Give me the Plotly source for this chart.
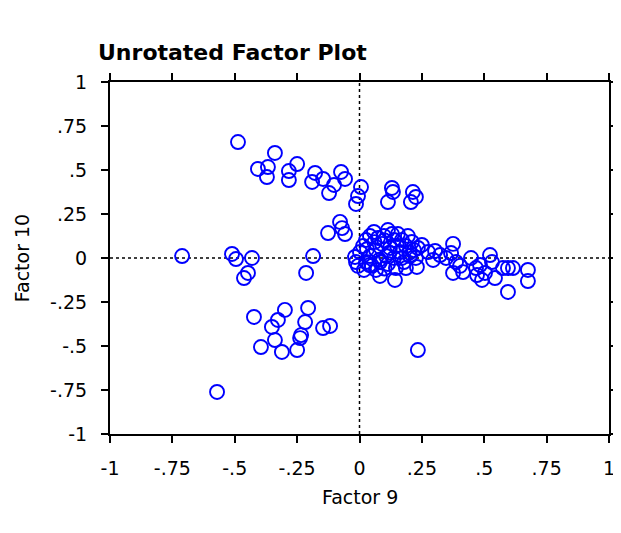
import plotly.graph_objects as go

# Factor 9 (x) and Factor 10 (y) loadings
factor9 = [
    -0.487, -0.339, -0.407, -0.367, -0.371, -0.283, -0.250, -0.283, -0.178, -0.190,
    -0.146, -0.122, -0.102, -0.074, -0.058, 0.006, -0.006, -0.014,
    0.130, 0.134, 0.114, 0.214, 0.226, 0.206,
    -0.126, -0.078, -0.070, -0.058,
    -0.711, -0.511, -0.495, -0.431, -0.447, -0.463, -0.186, -0.214,
    -0.423, -0.299, -0.327, -0.351, -0.339, -0.395, -0.311, -0.206, -0.218, -0.234,
    -0.250, -0.238, -0.146, -0.118, -0.571, 0.234,
    -0.014, -0.006, -0.018, 0.002, 0.014, 0.026, 0.042, 0.058, 0.074, 0.090,
    0.066, 0.042, 0.026, 0.050, 0.082, 0.106, 0.122, 0.138, 0.154, 0.170,
    0.186, 0.162, 0.138, 0.114, 0.146, 0.178, 0.202, 0.218, 0.194, 0.210,
    0.098, 0.114, 0.130, 0.066, 0.018, 0.082, 0.142, 0.186, 0.234, 0.226,
    0.230, 0.250, 0.275, 0.303, 0.295, 0.323,
    0.030, 0.060, 0.100, 0.120, 0.080, 0.150, 0.170, 0.040, 0.100, 0.200,
    0.347, 0.367, 0.375, 0.387, 0.375, 0.403, 0.415, 0.447, 0.467, 0.483,
    0.471, 0.503, 0.491, 0.523, 0.531, 0.543, 0.575, 0.595, 0.615, 0.595,
    0.675, 0.675,
]
factor10 = [
    0.659, 0.597, 0.506, 0.517, 0.460, 0.494, 0.534, 0.443, 0.483, 0.432,
    0.449, 0.369, 0.415, 0.489, 0.449, 0.403, 0.352, 0.307,
    0.398, 0.375, 0.318, 0.375, 0.347, 0.318,
    0.142, 0.205, 0.170, 0.136,
    0.011, 0.023, -0.006, 0.000, -0.085, -0.114, 0.011, -0.085,
    -0.335, -0.295, -0.352, -0.392, -0.466, -0.506, -0.534, -0.284, -0.364, -0.438,
    -0.523, -0.455, -0.398, -0.386, -0.761, -0.523,
    -0.023, -0.045, 0.006, 0.034, 0.068, 0.102, 0.125, 0.148, 0.114, 0.080,
    0.045, 0.011, -0.023, -0.045, -0.023, 0.011, 0.057, 0.102, 0.136, 0.102,
    0.068, 0.034, 0.000, -0.034, -0.057, -0.023, 0.011, 0.045, 0.125, 0.091,
    0.125, 0.159, 0.136, -0.068, -0.068, -0.102, -0.125, -0.057, 0.057, 0.000,
    -0.051, 0.074, 0.034, 0.040, -0.011, 0.017,
    0.050, 0.090, 0.100, 0.030, -0.010, 0.070, 0.000, -0.040, -0.060, 0.030,
    0.000, 0.028, 0.080, -0.023, -0.085, -0.045, -0.080, 0.000, -0.057, -0.040,
    -0.097, -0.085, -0.125, 0.017, -0.023, -0.114, -0.057, -0.057, -0.057, -0.193,
    -0.068, -0.131,
]

tick_vals = [-1, -0.75, -0.5, -0.25, 0, 0.25, 0.5, 0.75, 1]
tick_text = ["-1", "-.75", "-.5", "-.25", "0", ".25", ".5", ".75", "1"]

FONT = "DejaVu Sans"

fig = go.Figure()
fig.add_trace(go.Scatter(
    x=factor9, y=factor10, mode="markers",
    marker=dict(symbol="circle-open", size=14, color="#0000ff",
                line=dict(width=1.9, color="#0000ff")),
    showlegend=False, hoverinfo="skip",
))

# dotted reference lines through the origin
fig.add_shape(type="line", xref="x", yref="y", x0=0, x1=0, y0=-1, y1=1,
              line=dict(color="black", width=1.5, dash="dot"), layer="below")
fig.add_shape(type="line", xref="x", yref="y", x0=-1, x1=1, y0=0, y1=0,
              line=dict(color="black", width=1.5, dash="dot"), layer="below")

axis_common = dict(
    range=[-1, 1], tickvals=tick_vals, ticktext=tick_text, automargin=False,
    showgrid=False, zeroline=False, showline=True, linecolor="black",
    linewidth=2, mirror="ticks", ticks="outside", ticklen=7, tickwidth=2,
    tickcolor="black", tickfont=dict(family=FONT, size=19, color="black"),
)

fig.update_layout(
    width=613, height=525,
    margin=dict(l=102, r=12, t=74, b=99),
    paper_bgcolor="white", plot_bgcolor="white",
    title=dict(text="<b>Unrotated Factor Plot</b>", x=90 / 613, xanchor="left",
               y=1 - 44 / 525, yanchor="middle",
               font=dict(family=FONT, size=22, color="black")),
    xaxis=dict(**axis_common, ticklabelstandoff=9),
    yaxis=dict(**axis_common, ticklabelstandoff=10),
    annotations=[
        dict(text="Factor 9", xref="paper", yref="paper", x=0.5, y=-0.179,
             xanchor="center", yanchor="middle", showarrow=False,
             font=dict(family=FONT, size=19, color="black")),
        dict(text="Factor 10", xref="paper", yref="paper", x=-0.176, y=0.5,
             xanchor="center", yanchor="middle", showarrow=False, textangle=-90,
             font=dict(family=FONT, size=19, color="black")),
    ],
)

fig.write_html("out.html")
